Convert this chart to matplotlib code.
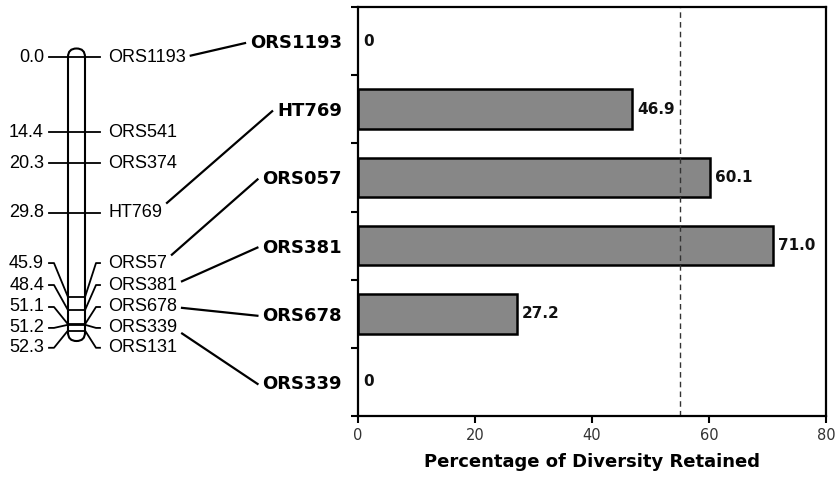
import matplotlib
matplotlib.use("Agg")
import matplotlib.pyplot as plt
import numpy as np
from matplotlib.patches import FancyBboxPatch

# bar chart data
markers = ["ORS1193", "HT769", "ORS057", "ORS381", "ORS678", "ORS339"]
retained = [0, 46.9, 60.1, 71.0, 27.2, 0]
threshold = 55

# linkage map data (cM)
map_pos = [0.0, 14.4, 20.3, 29.8, 45.9, 48.4, 51.1, 51.2, 52.3]
map_names = ["ORS1193", "ORS541", "ORS374", "HT769", "ORS57",
             "ORS381", "ORS678", "ORS339", "ORS131"]
label_pos = [0.0, 14.4, 20.3, 29.8, 39.4, 43.6, 47.8, 51.8, 55.6]
links = {"ORS1193": "ORS1193", "HT769": "HT769", "ORS57": "ORS057",
         "ORS381": "ORS381", "ORS678": "ORS678", "ORS339": "ORS339"}

W, H = 835, 479
fig = plt.figure(figsize=(W / 100, H / 100), dpi=100)
base = fig.add_axes([0, 0, 1, 1])
base.set_xlim(0, W)
base.set_ylim(H, 0)
base.axis("off")

ax = fig.add_axes([358 / W, 1 - 416 / H, 468 / W, 409 / H])

# ---- bar chart ----
y = np.arange(len(markers))
edge_w = [1.8 if v > 0 else 0 for v in retained]
ax.barh(y, retained, height=0.58, color="#878787", edgecolor="black", linewidth=edge_w)
for yi, v in zip(y, retained):
    ax.text(v + 0.85, yi, f"{v:.1f}" if v else "0", va="center", ha="left",
            fontweight="bold", fontsize=11, color="#111")
ax.axvline(threshold, color="#333", lw=1, ls=(0, (4, 3)))
ax.set_xlim(0, 80)
ax.set_ylim(5.5, -0.5)
ax.set_xticks([0, 20, 40, 60, 80])
ax.set_yticks(y)
ax.set_yticklabels(markers, fontweight="bold", fontsize=13)
ax.set_yticks(np.arange(-0.5, 6), minor=True)
ax.tick_params(axis="y", which="major", length=0, pad=11.5)
ax.tick_params(axis="y", which="minor", length=5, width=1.5, direction="out")
ax.tick_params(axis="x", length=5, width=1.5, direction="out", labelsize=10.5,
               labelcolor="#333", pad=4)
for s in ax.spines.values():
    s.set_linewidth(1.6)
ax.set_xlabel("Percentage of Diversity Retained", fontweight="bold", fontsize=13,
              labelpad=7)

# ---- linkage map ----
top_px, px_per_cm = 57, 5.23


def ypx(cm):
    return top_px + px_per_cm * np.asarray(cm)


cx0, cx1 = 68, 85
chrom = FancyBboxPatch((cx0, ypx(map_pos[0]) - 8.5), cx1 - cx0,
                       ypx(map_pos[-1]) - ypx(map_pos[0]) + 19,
                       boxstyle="round,pad=0,rounding_size=8.5",
                       fc="white", ec="black", lw=1.5, zorder=2)
base.add_patch(chrom)

name_texts = {}
for pos, lab, name in zip(map_pos, label_pos, map_names):
    py, ly = ypx(pos), ypx(lab)
    base.plot([49, 54, cx0], [ly, ly, py], color="black", lw=1.3, zorder=3)
    base.plot([cx0, cx1], [py, py], color="black", lw=1.3, zorder=3)
    base.plot([cx1, 96, 100], [py, ly, ly], color="black", lw=1.3, zorder=3)
    base.text(44, ly, f"{pos:.1f}", ha="right", va="center",
              fontsize=13, family="Liberation Sans")
    name_texts[name] = base.text(108, ly, name, ha="left", va="center",
                                 fontsize=13, family="Liberation Sans")

# connectors from map names to bar labels
fig.canvas.draw()
renderer = fig.canvas.get_renderer()
inv = base.transData.inverted()
ticklabels = {t.get_text(): t for t in ax.get_yticklabels()}
for src, dst in links.items():
    bb = name_texts[src].get_window_extent(renderer)
    x0, ly = inv.transform((bb.x1, (bb.y0 + bb.y1) / 2))
    tb = ticklabels[dst].get_window_extent(renderer)
    x1, ty = inv.transform((tb.x0, (tb.y0 + tb.y1) / 2))
    sy = ly + np.clip((ty - ly) * 0.1, -10, 10)
    base.plot([x0 + 5, x1 - 5], [sy, ty], color="black", lw=1.6)

fig.savefig("out.png", dpi=100)
